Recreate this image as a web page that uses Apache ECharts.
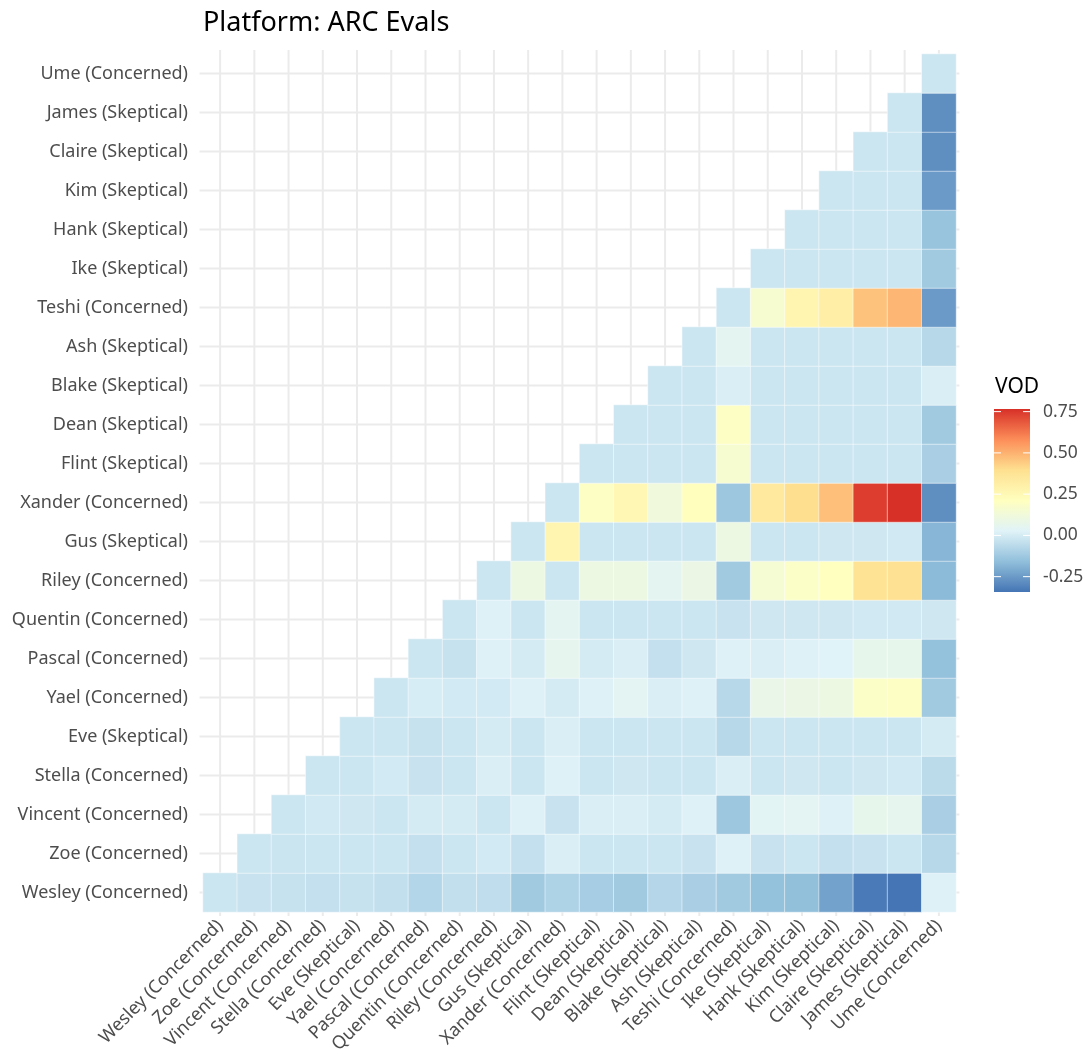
<!DOCTYPE html>
<html>
<head>
<meta charset="utf-8">
<script src="https://cdn.jsdelivr.net/npm/echarts@6/dist/echarts.min.js"></script>
<style>
  html, body { margin: 0; padding: 0; background: #fff; }
  #chart { width: 1088px; height: 1059px; }
</style>
</head>
<body>
<div id="chart"></div>
<script>
// people, in axis order (x left->right, y bottom->top)
const people = [
  "Wesley (Concerned)", "Zoe (Concerned)", "Vincent (Concerned)", "Stella (Concerned)",
  "Eve (Skeptical)", "Yael (Concerned)", "Pascal (Concerned)", "Quentin (Concerned)",
  "Riley (Concerned)", "Gus (Skeptical)", "Xander (Concerned)", "Flint (Skeptical)",
  "Dean (Skeptical)", "Blake (Skeptical)", "Ash (Skeptical)", "Teshi (Concerned)",
  "Ike (Skeptical)", "Hank (Skeptical)", "Kim (Skeptical)", "Claire (Skeptical)",
  "James (Skeptical)", "Ume (Concerned)"
]

// VOD values, one row per y person, starting at the column of the same person
const vodWesley = [-0.02, -0.03, -0.035, -0.04, -0.035, -0.045, -0.078, -0.045, -0.05, -0.12, -0.09, -0.11, -0.12, -0.075, -0.10, -0.12, -0.15, -0.155, -0.23, -0.33, -0.343, 0.02]
const vodZoe = [-0.02, -0.025, -0.02, -0.02, -0.02, -0.04, -0.02, -0.005, -0.04, 0.01, -0.02, -0.02, -0.02, -0.03, 0.02, -0.03, -0.02, -0.04, -0.03, -0.02, -0.07]
const vodVincent = [-0.02, -0.01, -0.015, -0.02, 0.0, 0.0, -0.02, 0.02, -0.03, 0.01, 0.01, 0.0, 0.02, -0.13, 0.04, 0.045, 0.02, 0.07, 0.06, -0.10]
const vodStella = [-0.02, -0.02, -0.005, -0.03, -0.02, 0.01, -0.02, 0.02, -0.02, -0.015, -0.02, -0.02, 0.01, -0.02, -0.015, -0.02, -0.015, -0.01, -0.06]
const vodEve = [-0.02, -0.02, -0.035, -0.02, 0.0, -0.02, 0.01, -0.02, -0.02, -0.02, -0.02, -0.07, -0.02, -0.02, -0.02, -0.02, -0.02, 0.0]
const vodYael = [-0.02, 0.005, -0.005, -0.005, 0.02, 0.0, 0.02, 0.045, 0.01, 0.02, -0.07, 0.08, 0.09, 0.1, 0.19, 0.2, -0.12]
const vodPascal = [-0.02, -0.035, 0.02, 0.0, 0.06, 0.0, 0.01, -0.04, -0.015, 0.02, 0.01, 0.02, 0.025, 0.07, 0.07, -0.15]
const vodQuentin = [-0.02, 0.02, -0.02, 0.05, -0.02, -0.02, -0.02, -0.02, -0.03, -0.015, -0.015, -0.015, -0.01, -0.01, -0.015]
const vodRiley = [-0.02, 0.1, -0.02, 0.1, 0.1, 0.05, 0.09, -0.12, 0.15, 0.19, 0.21, 0.38, 0.39, -0.17]
const vodGus = [-0.02, 0.27, -0.02, -0.02, -0.02, -0.02, 0.1, -0.02, -0.02, -0.015, -0.015, -0.01, -0.18]
const vodXander = [-0.02, 0.2, 0.26, 0.12, 0.22, -0.13, 0.34, 0.40, 0.47, 0.74, 0.766, -0.28]
const vodFlint = [-0.02, -0.02, -0.02, -0.02, 0.16, -0.02, -0.02, -0.02, -0.02, -0.02, -0.10]
const vodDean = [-0.02, -0.02, -0.02, 0.2, -0.02, -0.02, -0.02, -0.02, -0.02, -0.12]
const vodBlake = [-0.02, -0.02, 0.01, -0.02, -0.02, -0.02, -0.02, -0.02, 0.01]
const vodAsh = [-0.02, 0.05, -0.02, -0.02, -0.02, -0.02, -0.02, -0.07]
const vodTeshi = [-0.02, 0.16, 0.27, 0.31, 0.46, 0.49, -0.25]
const vodIke = [-0.02, -0.02, -0.02, -0.02, -0.02, -0.12]
const vodHank = [-0.02, -0.02, -0.02, -0.02, -0.14]
const vodKim = [-0.02, -0.02, -0.02, -0.25]
const vodClaire = [-0.02, -0.02, -0.28]
const vodJames = [-0.02, -0.28]
const vodUme = [-0.02]

const vodRows = [vodWesley, vodZoe, vodVincent, vodStella, vodEve, vodYael, vodPascal, vodQuentin,
  vodRiley, vodGus, vodXander, vodFlint, vodDean, vodBlake, vodAsh, vodTeshi, vodIke, vodHank,
  vodKim, vodClaire, vodJames, vodUme]

const legendTicks = [0.75, 0.5, 0.25, 0, -0.25]

// RdYlBu (7), low -> high
const palette = ["#4575b4", "#91bfdb", "#e0f3f8", "#ffffbf", "#fee090", "#fc8d59", "#d73027"]

const heatData = []
vodRows.forEach((row, y) => {
  row.forEach((v, k) => heatData.push([y + k, y, v]))
})
const vodMin = Math.min(...heatData.map(d => d[2]))
const vodMax = Math.max(...heatData.map(d => d[2]))

// colour bar
const barX = 994
const barTop = 409
const barW = 36
const barH = 183
const barY = v => barTop + (vodMax - v) / (vodMax - vodMin) * barH

const legendGraphics = [
  {
    type: "text", left: 995, top: 377,
    style: { text: "VOD", font: "21px 'Noto Sans'", fill: "#000" }
  },
  {
    type: "rect",
    shape: { x: barX, y: barTop, width: barW, height: barH },
    style: {
      fill: new echarts.graphic.LinearGradient(0, 0, 0, 1,
        palette.slice().reverse().map((c, i) => ({ offset: i / (palette.length - 1), color: c })))
    }
  }
]
legendTicks.forEach(t => {
  const y = barY(t)
  legendGraphics.push(
    { type: "line", shape: { x1: barX, y1: y, x2: barX + 7, y2: y }, style: { stroke: "#fff", lineWidth: 1 } },
    { type: "line", shape: { x1: barX + barW - 7, y1: y, x2: barX + barW, y2: y }, style: { stroke: "#fff", lineWidth: 1 } },
    {
      type: "text", x: barX + barW + 13, y: y,
      style: { text: t.toFixed(2), font: "17.5px 'Noto Sans'", fill: "#4d4d4d", textVerticalAlign: "middle" }
    }
  )
})

const chart = echarts.init(document.getElementById("chart"))

chart.setOption({
  animation: false,
  backgroundColor: "#fff",
  textStyle: { fontFamily: "Noto Sans" },
  title: {
    text: "Platform: ARC Evals",
    left: 198,
    top: 5,
    textStyle: { fontSize: 27, fontWeight: "normal", color: "#000", fontFamily: "Noto Sans" }
  },
  grid: { left: 203, right: 132, top: 54, bottom: 147 },
  xAxis: {
    type: "category",
    data: people,
    axisLine: { show: false },
    axisTick: { show: false },
    splitLine: { show: false },
    axisLabel: { interval: 0, rotate: 45, margin: 11, fontSize: 18, color: "#4d4d4d" }
  },
  yAxis: {
    type: "category",
    data: people,
    axisLine: { show: false },
    axisTick: { show: false },
    splitLine: { show: false },
    axisLabel: { interval: 0, margin: 15, fontSize: 18, color: "#4d4d4d" }
  },
  visualMap: {
    type: "continuous",
    show: false,
    seriesIndex: 1,
    dimension: 2,
    min: vodMin,
    max: vodMax,
    inRange: { color: palette }
  },
  graphic: legendGraphics,
  series: [
    {
      // panel grid lines at category centres
      type: "custom",
      z: 1,
      silent: true,
      data: people.map((p, i) => [i, i]),
      renderItem: (params, api) => {
        const p = api.coord([api.value(0), api.value(1)])
        const cs = params.coordSys
        const size = api.size([1, 1])
        const padX = size[0] * 0.1
        const padY = size[1] * 0.1
        const style = { stroke: "#ebebeb", lineWidth: 2 }
        return {
          type: "group",
          children: [
            { type: "line", shape: { x1: p[0], y1: cs.y - padY, x2: p[0], y2: cs.y + cs.height + padY }, style },
            { type: "line", shape: { x1: cs.x - padX, y1: p[1], x2: cs.x + cs.width + padX, y2: p[1] }, style }
          ]
        }
      }
    },
    {
      type: "heatmap",
      z: 2,
      data: heatData,
      itemStyle: { borderColor: "#fff", borderWidth: 0.5 },
      emphasis: { disabled: true }
    }
  ]
})
</script>
</body>
</html>
